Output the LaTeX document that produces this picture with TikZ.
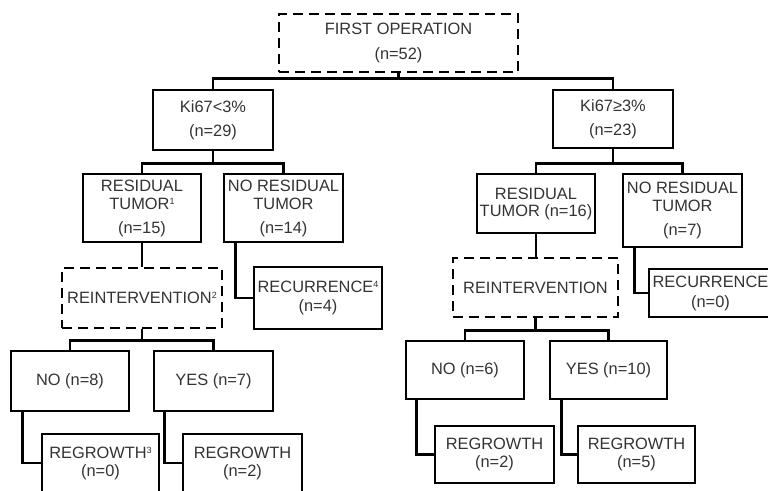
\documentclass[tikz,border=0pt]{standalone}
\usepackage{fontspec}
\setmainfont{Liberation Sans}

\newcommand{\fnmark}[1]{\raisebox{5pt}{\fontsize{9}{9}\selectfont #1}}

\begin{document}
\begin{tikzpicture}[x=1pt,y=-1pt,
  box/.style={draw, line width=2.6pt, inner sep=2pt, align=center, text=black!80, font=\fontsize{16.4}{18}\selectfont},
  dbox/.style={box, dash pattern=on 10pt off 6pt},
  link/.style={line width=2.6pt}]
\clip (0,0) rectangle (768,490);
\node[dbox, minimum width=239pt, minimum height=58pt] (first) at (398.5,43) {FIRST OPERATION\\[7pt](n=52)};
\node[box, minimum width=120pt, minimum height=60pt] (kilo) at (213,120) {Ki67<3\%\\[6pt](n=29)};
\node[box, minimum width=120pt, minimum height=58pt] (kihi) at (613,119) {Ki67≥3\%\\[6pt](n=23)};
\node[box, minimum width=118pt, minimum height=68pt] (reslo) at (142,208) {RESIDUAL\\TUMOR\fnmark{1}\\[6pt](n=15)};
\node[box, minimum width=119pt, minimum height=68pt] (noreslo) at (283.5,208) {NO RESIDUAL\\TUMOR\\[6pt](n=14)};
\node[box, minimum width=118pt, minimum height=59pt] (reshi) at (536,203.5) {RESIDUAL\\[-1pt]TUMOR (n=16)};
\node[box, minimum width=119pt, minimum height=73pt] (noreshi) at (682.5,210.5) {NO RESIDUAL\\TUMOR\\[6pt](n=7)};
\node[dbox, minimum width=160pt, minimum height=60pt] (reintlo) at (142,298) {REINTERVENTION\fnmark{2}};
\node[box, minimum width=128pt, minimum height=62pt] (reclo) at (318,298) {RECURRENCE\fnmark{4}\\[1pt](n=4)};
\node[dbox, minimum width=165pt, minimum height=59pt] (reinthi) at (535.5,287.5) {REINTERVENTION};
\node[box, minimum width=123pt, minimum height=48pt] (rechi) at (710.5,293) {RECURRENCE\\[2pt](n=0)};
\node[box, minimum width=118pt, minimum height=60pt] (nolo) at (70,381) {NO (n=8)};
\node[box, minimum width=119pt, minimum height=60pt] (yeslo) at (213.5,381) {YES (n=7)};
\node[box, minimum width=118pt, minimum height=58pt] (nohi) at (465,370) {NO (n=6)};
\node[box, minimum width=117pt, minimum height=58pt] (yeshi) at (608.5,370) {YES (n=10)};
\node[box, minimum width=117pt, minimum height=58pt] (reglo1) at (100.5,463) {REGROWTH\fnmark{3}\\(n=0)};
\node[box, minimum width=119pt, minimum height=58pt] (reglo2) at (242.5,463) {REGROWTH\\(n=2)};
\node[box, minimum width=119pt, minimum height=57pt] (reghi1) at (494.5,454.5) {REGROWTH\\(n=2)};
\node[box, minimum width=117pt, minimum height=57pt] (reghi2) at (636.5,454.5) {REGROWTH\\(n=5)};
\draw[link] (first.south) -- ++(0,5) -| (kilo.north);
\draw[link] (first.south) -- ++(0,5) -| (kihi.north);
\draw[link] (kilo.south) -- ++(0,12) -| (reslo.north);
\draw[link] (kilo.south) -- ++(0,12) -| (noreslo.north);
\draw[link] (kihi.south) -- ++(0,14) -| (reshi.north);
\draw[link] (kihi.south) -- ++(0,14) -| (noreshi.north);
\draw[link] (reslo.south) -- (reintlo.north);
\draw[link] ([xshift=13pt]noreslo.south west) |- (reclo.west);
\draw[link] (reshi.south) -- (reshi.south |- reinthi.north);
\draw[link] ([xshift=13pt]noreshi.south west) |- (rechi.west);
\draw[link] (reintlo.south) -- ++(0,11) -| (nolo.north);
\draw[link] (reintlo.south) -- ++(0,11) -| (yeslo.north);
\draw[link] (reinthi.south) -- ++(0,12) -| (nohi.north);
\draw[link] (reinthi.south) -- ++(0,12) -| (yeshi.north);
\draw[link] ([xshift=13pt]nolo.south west) |- (reglo1.west);
\draw[link] ([xshift=12pt]yeslo.south west) |- (reglo2.west);
\draw[link] ([xshift=12pt]nohi.south west) |- (reghi1.west);
\draw[link] ([xshift=13pt]yeshi.south west) |- (reghi2.west);
\end{tikzpicture}
\end{document}
